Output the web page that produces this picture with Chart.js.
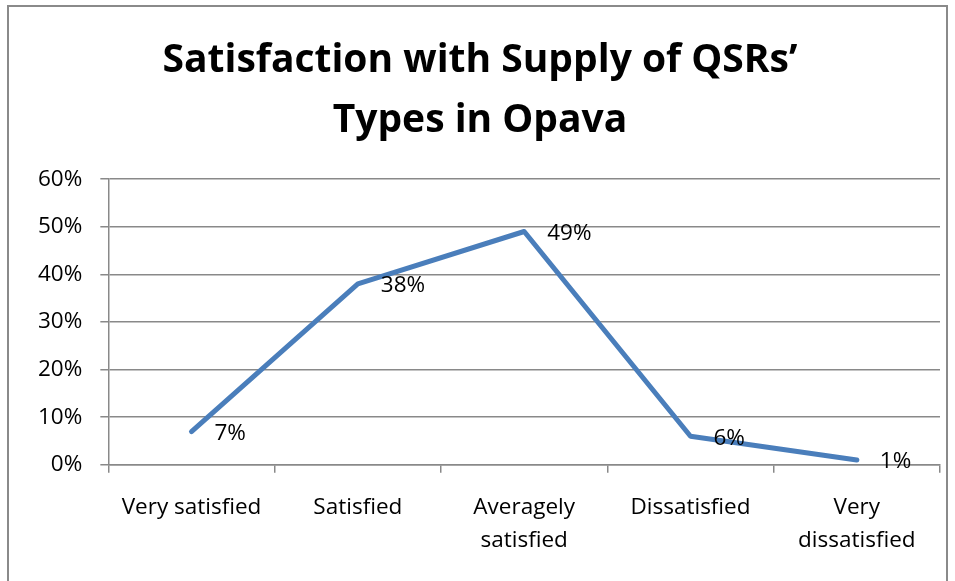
<!DOCTYPE html>
<html>
<head>
<meta charset="utf-8">
<script src="https://cdn.jsdelivr.net/npm/chart.js@4/dist/chart.umd.min.js"></script>
<style>
  html, body { margin: 0; padding: 0; background: #fff; }
  #wrap { position: relative; width: 955px; height: 581px; }
</style>
</head>
<body>
<div id="wrap"><canvas id="chart"></canvas></div>
<script>
const CATEGORIES = ["Very satisfied", "Satisfied", ["Averagely", "satisfied"], "Dissatisfied", ["Very", "dissatisfied"]];
const VALUES = [7, 38, 49, 6, 1];
const VALUE_LABELS = ["7%", "38%", "49%", "6%", "1%"];
const Y_TICKS = { min: 0, max: 60, step: 10 };
const TITLE = ["Satisfaction with Supply of QSRs\u2019", "Types in Opava"];

const FONT = "'Open Sans', sans-serif";
const GRID = "#898989";

// white page plus the thin grey frame around the chart
const frame = {
  id: "frame",
  beforeDraw(chart) {
    const c = chart.ctx;
    c.save();
    c.fillStyle = "#fff";
    c.fillRect(0, 0, chart.width, chart.height);
    c.strokeStyle = "#8a8a8a";
    c.lineWidth = 2;
    c.strokeRect(8, 6, chart.width - 16, chart.height + 20);
    c.restore();
  },
};

// value labels placed to the right of each point
const valueLabels = {
  id: "valueLabels",
  afterDatasetsDraw(chart) {
    const c = chart.ctx, meta = chart.getDatasetMeta(0);
    c.save();
    c.font = `22.5px ${FONT}`;
    c.fillStyle = "#000";
    c.textAlign = "left";
    c.textBaseline = "middle";
    meta.data.forEach((pt, i) => c.fillText(VALUE_LABELS[i], pt.x + 23, pt.y + 2));
    c.restore();
  },
};

new Chart(document.getElementById("chart"), {
  type: "line",
  data: {
    labels: CATEGORIES,
    datasets: [{
      data: VALUES, borderColor: "#4a7ebb", borderWidth: 5, pointRadius: 0,
      tension: 0, borderCapStyle: "round", borderJoinStyle: "round", fill: false,
    }],
  },
  options: {
    responsive: true, maintainAspectRatio: false, animation: false,
    layout: { padding: { left: 20, right: 15, top: 0, bottom: 6 } },
    scales: {
      x: {
        offset: true,
        grid: { offset: true, drawOnChartArea: false, drawTicks: true, tickLength: 8, color: GRID, lineWidth: 1.5 },
        border: { color: GRID, width: 1.5 },
        ticks: { color: "#000", padding: 18, maxRotation: 0, autoSkip: false,
                 font: { family: FONT, size: 22.5, lineHeight: 1.47 } },
      },
      y: {
        min: Y_TICKS.min, max: Y_TICKS.max,
        grid: { color: GRID, lineWidth: 1.5, tickLength: 8 },
        border: { color: GRID, width: 1.5 },
        ticks: { stepSize: Y_TICKS.step, color: "#000", padding: 18, callback: v => v + "%",
                 font: { family: FONT, size: 22.5 } },
      },
    },
    plugins: {
      legend: { display: false },
      tooltip: { enabled: false },
      title: {
        display: true, text: TITLE, color: "#000",
        font: { family: FONT, size: 39, weight: "bold", lineHeight: 1.54 },
        padding: { top: 31, bottom: 28 },
      },
    },
  },
  plugins: [frame, valueLabels],
});
</script>
</body>
</html>
